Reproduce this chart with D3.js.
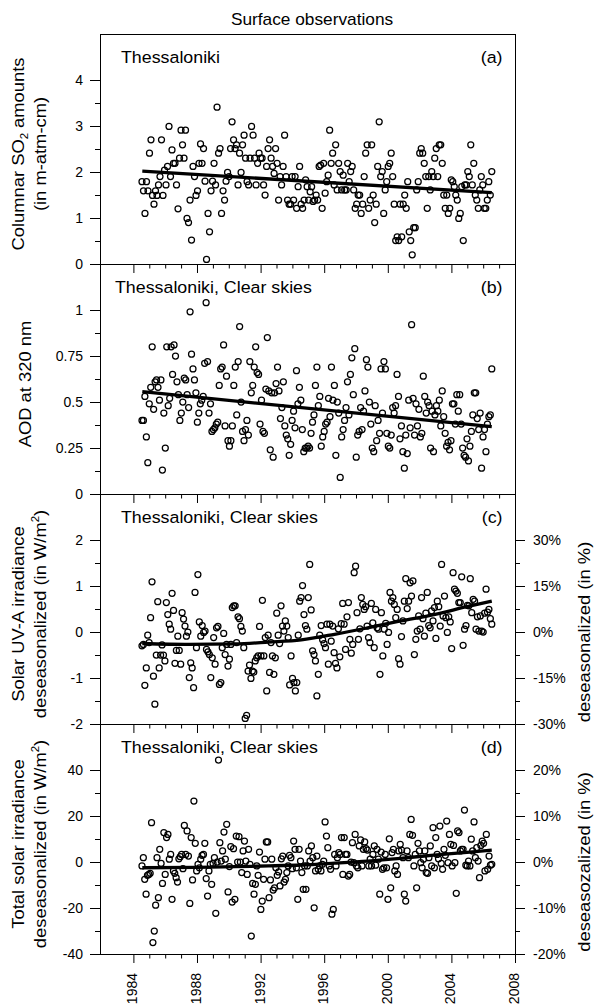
<!DOCTYPE html>
<html>
<head>
<meta charset="utf-8">
<script src="https://cdn.jsdelivr.net/npm/d3@7"></script>
<style>
  body { margin: 0; background: #fff; }
  svg { display: block; font-family: "Liberation Sans", Arial, Helvetica, sans-serif; }
</style>
</head>
<body>
<svg width="599" height="1008"></svg>
<script>
const width = 599, height = 1008;
const svg = d3.select("svg");

// observation period (monthly means, spread evenly over it)
const firstObs = 1984.54, lastObs = 2006.54;
const yearTicks = d3.range(1984, 2009);
const yearLabels = [1984, 1988, 1992, 1996, 2000, 2004, 2008];

// (a) columnar SO2
const so2Values = [1.79,1.59,1.10,1.79,1.59,2.41,2.70,1.49,1.30,1.59,1.49,1.72,1.90,2.70,1.49,2.04,1.72,2.12,2.99,1.90,2.48,2.19,2.19,1.72,1.20,2.30,2.91,2.59,2.30,2.91,0.99,0.90,1.39,0.52,2.12,1.90,1.49,1.59,2.19,2.61,2.19,2.51,1.80,0.10,1.10,0.70,1.59,1.80,2.19,1.72,3.41,2.41,2.51,1.10,1.59,1.39,1.80,1.99,1.90,2.51,3.09,2.70,2.51,2.59,1.72,2.41,1.99,2.59,2.80,2.30,1.79,1.72,2.30,2.99,2.80,2.30,1.72,2.19,2.41,2.30,2.30,1.72,1.50,2.12,2.51,2.70,2.30,2.12,1.97,2.51,2.19,1.39,1.90,1.72,2.12,2.80,1.90,1.39,1.30,1.30,1.90,1.39,1.90,1.21,1.68,2.12,1.30,1.21,1.39,
  1.83,1.68,1.39,1.57,1.68,1.36,1.39,1.50,1.39,2.12,2.15,1.21,2.19,1.54,1.79,1.93,2.91,2.19,2.41,1.72,2.59,1.61,2.19,2.01,1.61,1.93,1.61,1.61,2.19,1.79,2.01,2.12,1.61,1.21,1.30,1.50,1.50,1.10,1.30,1.90,2.41,2.59,1.21,1.39,2.59,1.50,0.90,1.30,2.12,3.09,1.90,2.01,1.10,1.61,1.79,2.12,2.19,2.41,1.90,1.30,0.51,0.59,0.51,1.30,0.59,1.30,1.50,1.21,1.79,0.70,0.51,0.20,0.79,0.79,1.61,1.79,2.41,2.51,2.41,2.19,1.90,1.21,1.90,1.61,2.01,1.90,2.30,2.51,1.90,2.59,2.59,2.19,1.50,1.21,1.50,1.10,1.21,1.83,1.79,1.68,1.50,1.39,0.99,1.10,1.68,0.51,1.72,1.72,2.01,1.90,2.59,1.72,2.19,1.50,1.39,1.21,1.61,1.90,1.72,1.21,1.21,1.39,1.79,1.50,2.01];
const so2TrendYears = [1984.56, 2006.54];
const so2TrendValues = [2.02, 1.55];
const so2Ticks = [0, 1, 2, 3, 4];
const so2Minor = [0.5, 1.5, 2.5, 3.5];

// (b) aerosol optical depth at 320 nm
const aodValues = [0.40,0.40,0.53,0.31,0.17,0.49,0.58,0.80,0.46,0.61,0.62,0.58,0.51,0.62,0.13,0.44,0.25,0.80,0.48,0.52,0.80,0.65,0.81,0.75,0.61,0.54,0.40,0.44,0.50,0.63,0.62,0.54,0.47,0.99,0.76,0.68,0.62,0.55,0.39,0.44,0.49,0.51,0.53,0.71,1.04,0.72,0.44,0.49,0.34,0.35,0.36,0.38,0.39,0.59,0.68,0.69,0.81,0.37,0.64,0.29,0.26,0.29,0.37,0.59,0.69,0.43,0.72,0.91,0.50,0.34,0.29,0.35,0.40,0.32,0.72,0.55,0.59,0.69,0.80,0.66,0.65,0.38,0.51,0.34,0.33,0.57,0.85,0.56,0.24,0.55,0.20,0.55,0.60,0.69,0.56,0.41,0.47,0.61,0.37,0.32,0.30,0.21,0.27,0.40,0.45,0.36,0.67,0.49,
  0.58,0.51,0.35,0.23,0.25,0.25,0.26,0.25,0.33,0.39,0.43,0.59,0.69,0.48,0.53,0.26,0.31,0.34,0.38,0.39,0.52,0.42,0.69,0.51,0.59,0.21,0.50,0.44,0.09,0.31,0.35,0.40,0.47,0.61,0.43,0.65,0.74,0.54,0.79,0.20,0.32,0.34,0.47,0.35,0.45,0.56,0.73,0.69,0.50,0.38,0.25,0.23,0.48,0.29,0.40,0.33,0.68,0.44,0.72,0.68,0.33,0.26,0.25,0.32,0.47,0.44,0.48,0.65,0.53,0.30,0.37,0.23,0.14,0.32,0.22,0.51,0.36,0.92,0.52,0.32,0.49,0.37,0.46,0.31,0.33,0.64,0.53,0.44,0.50,0.48,0.25,0.45,0.23,0.43,0.48,0.45,0.51,0.37,0.56,0.42,0.33,0.26,0.28,0.24,0.29,0.49,0.49,0.38,0.54,0.45,0.54,0.38,0.25,0.21,0.20,0.30,0.18,0.26,0.34,0.43,0.55,0.55,0.41,0.35,0.44,0.14,0.31,0.35,0.23,0.38,0.42,0.43,0.68];
const aodTrendYears = [1984.56, 2006.54];
const aodTrendValues = [0.556, 0.366];
const aodTicks = [0, 0.25, 0.5, 0.75, 1];
const aodMinor = [0.125, 0.375, 0.625, 0.875];

// (c) solar UV-A irradiance, deseasonalized
const uvaValues = [-0.30,-0.27,-1.16,-0.78,-0.07,-0.23,0.31,1.09,-0.96,-1.57,-0.50,0.66,-0.78,-0.50,-0.28,-0.50,-0.63,0.64,0.38,0.17,0.06,0.84,0.47,-0.68,-0.40,-0.09,-0.40,-0.70,0.42,0.28,0.13,-0.09,0.00,-0.99,-0.67,-0.78,-1.21,0.86,-0.34,1.25,0.22,-0.09,0.14,-0.01,0.02,-0.38,-0.43,-0.49,-0.99,-0.56,-0.12,-0.70,0.09,0.12,-1.14,-1.10,-0.34,-0.03,-0.49,-0.27,-0.74,-0.59,-0.27,0.53,0.57,0.57,-0.23,0.33,0.29,0.12,0.02,-0.34,-1.88,-1.81,-0.85,-0.72,-1.01,-0.85,-0.87,-0.63,-0.56,-0.52,0.12,-0.52,0.69,-0.52,-0.12,-1.28,-0.07,-0.88,-0.23,-0.52,-0.92,-0.56,0.41,-0.07,-0.25,0.57,0.13,0.02,0.24,0.13,-0.12,-1.15,-0.52,-1.01,-1.10,
  -1.28,-1.10,-0.07,0.67,0.75,1.01,0.38,0.14,0.06,0.75,1.47,0.48,-0.41,-0.49,-0.63,-1.39,-0.92,-0.07,0.14,-0.17,-0.25,-0.34,0.17,-0.70,0.17,-0.20,0.13,-0.45,-0.68,-0.78,0.07,-0.54,0.18,0.62,0.17,-0.38,0.33,0.64,-0.16,-0.46,-0.27,1.29,1.43,0.42,-0.16,0.07,0.75,0.60,0.49,0.55,0.13,-0.12,-0.23,0.62,0.20,-0.34,0.49,0.09,0.06,-0.92,0.42,-0.52,0.06,0.19,-0.27,-0.01,0.86,0.67,0.75,0.60,0.31,0.49,-0.58,-0.70,-0.10,0.24,0.67,1.16,0.51,0.67,1.07,0.78,1.11,-0.49,-0.16,0.02,0.35,0.06,0.75,0.29,-0.09,0.41,0.86,0.14,0.09,0.46,0.24,0.53,-0.14,0.67,0.55,0.13,1.47,0.35,0.78,0.31,-0.01,0.33,0.22,-0.36,1.29,0.93,0.89,0.84,0.64,0.64,1.20,-0.29,0.06,0.14,0.58,0.57,1.16,0.42,0.71,0.67,0.06,0.33,0.02,0.35,0.02,0.00,0.41,0.93,0.43,0.49,0.29,0.17];
const uvaTrendYears = [1984.56, 1987.5, 1990.4, 1992.5, 1994.56, 1996.65, 1998.73, 2000.81, 2002.9, 2004.98, 2006.54];
const uvaTrendValues = [-0.25, -0.27, -0.26, -0.22, -0.17, -0.05, 0.09, 0.24, 0.38, 0.55, 0.67];
const uvaTicks = [-2, -1, 0, 1, 2];
const uvaMinor = [-1.5, -0.5, 0.5, 1.5];
const uvaPctLabels = ["-30%", "-15%", "0%", "15%", "30%"];

// (d) total solar irradiance, deseasonalized
const tsiValues = [-1.7,1.9,-7.5,-14,-5.8,-5.4,-4.9,17.1,-35,-30,-18.8,1.9,-15.5,5.5,-0.6,-9.3,12.8,-5.4,10.6,12.0,1.2,3.3,-16.2,-3.9,-4.9,-6.8,-8.7,1.4,2.3,3.3,-2.9,15.9,3.3,13.5,2.6,-18.0,10.6,-7.8,26.5,8.1,-3.9,-1.0,-2.5,1.2,2.9,3.3,8.1,-7.2,-14.8,-3.9,-1.0,-9.7,-0.6,1.9,-22.3,0.0,44.3,8.4,0.4,4.8,13.0,1.2,16.4,-13.0,-2.0,6.7,-17.4,5.8,-16.2,11.3,0.0,11.0,0.0,-4.6,4.8,9.1,0.4,-5.4,5.5,-1.0,-32.2,-9.3,-14.0,-9.7,-1.7,-5.8,4.3,-20.6,-17.0,-7.5,1.2,8.7,8.7,-15.5,-7.8,1.2,-12.2,-11.2,-2.5,-5.8,-4.3,-10.4,1.4,2.6,-8.7,-7.5,-4.6,-1.7,2.9,1.9,-2.9,9.1,5.5,-2.5,-16.2,5.5,0.4,-4.6,
  -11.9,-1.7,-11.9,-1.7,4.8,0.4,7.0,1.9,-19.9,-3.9,2.6,-3.2,-1.7,-3.9,-1.0,0.4,17.4,11.3,6.2,-1.7,-3.2,-22.7,-20.6,3.3,-1.7,1.9,4.1,3.3,10.6,-5.4,10.6,3.3,3.3,-6.1,-5.4,0.0,8.4,-0.3,12.0,-1.7,-2.5,7.0,9.6,-1.7,5.5,8.7,5.8,5.2,-1.7,1.2,-1.7,3.3,7.0,-1.4,5.5,1.2,-14.0,4.3,-3.2,-2.5,3.3,-2.5,-16.2,10.1,-11.2,4.1,5.5,-3.9,-1.7,-5.4,4.8,7.7,5.2,1.9,-14.0,-17.0,4.8,1.9,12.0,18.5,11.6,-1.7,3.3,-11.2,8.1,4.8,-0.3,-2.5,1.2,4.8,-4.6,-4.9,1.9,7.0,-1.7,14.9,-2.5,10.6,3.3,1.4,15.6,-0.6,-3.2,5.5,2.9,17.8,-0.3,12.0,7.7,-1.7,7.2,-0.3,-13.6,13.5,12.8,4.8,5.5,5.5,22.6,-1.4,-1.7,0.4,-1.7,9.9,4.8,17.4,1.9,6.2,0.4,-6.8,7.2,9.1,8.1,-3.9,12.0,-3.2,2.6,-1.4,-1.0];
const tsiTrendYears = [1984.56, 1988, 1990.4, 1992.5, 1994.56, 1996.65, 1998.73, 2000.81, 2002.9, 2004.98, 2006.54];
const tsiTrendValues = [-2.5, -2.3, -2.0, -1.7, -1.3, -0.5, 0.4, 1.6, 3.0, 4.2, 5.2];
const tsiTicks = [-40, -20, 0, 20, 40];
const tsiMinor = [-30, -10, 10, 30];
const tsiPctLabels = ["-20%", "-10%", "0%", "10%", "20%"];

// layout
const left = 100, right = 515, panelH = 230, firstTop = 34;
const x = d3.scaleLinear().domain([1981.9, 2008]).range([left, right]);

const panels = [
  { values: so2Values, trendX: so2TrendYears, trendY: so2TrendValues, domain: [0, 5],
    ticks: so2Ticks, minor: so2Minor, station: "Thessaloniki", tag: "(a)", labelX: 121,
    title: [[["Columnar SO"], ["2", "sub"], [" amounts"]], [["(in m-atm-cm)"]]] },
  { values: aodValues, trendX: aodTrendYears, trendY: aodTrendValues, domain: [0, 1.25],
    ticks: aodTicks, minor: aodMinor, station: "Thessaloniki, Clear skies", tag: "(b)", labelX: 115,
    title: [[["AOD at 320 nm"]]] },
  { values: uvaValues, trendX: uvaTrendYears, trendY: uvaTrendValues, domain: [-2, 3],
    ticks: uvaTicks, minor: uvaMinor, station: "Thessaloniki, Clear skies", tag: "(c)", labelX: 121,
    title: [[["Solar UV-A irradiance"]], [["deseasonalized (in W/m"], ["2", "sup"], [")"]]],
    pct: uvaPctLabels, pctTitle: "deseasonalized (in %)" },
  { values: tsiValues, trendX: tsiTrendYears, trendY: tsiTrendValues, domain: [-40, 60],
    ticks: tsiTicks, minor: tsiMinor, station: "Thessaloniki, Clear skies", tag: "(d)", labelX: 121,
    title: [[["Total solar irradiance"]], [["deseasonalized (in W/m"], ["2", "sup"], [")"]]],
    pct: tsiPctLabels, pctTitle: "deseasozalized (in %)" }
];

// text helper; original lettering is a little wider than Liberation Sans
function addText(parent, tx, ty, rot, size, anchor, segments) {
  const t = parent.append("text")
    .attr("transform", `translate(${tx},${ty}) rotate(${rot}) scale(1.08,1)`)
    .attr("font-size", size)
    .attr("text-anchor", anchor)
    .attr("fill", "#000");
  let shift = 0;
  segments.forEach(([s, kind]) => {
    const sp = t.append("tspan").text(s);
    let target = 0;
    if (kind === "sub") { sp.attr("font-size", size * 0.62); target = 4; }
    if (kind === "sup") { sp.attr("font-size", size * 0.62); target = -7; }
    if (target !== shift) { sp.attr("dy", target - shift); shift = target; }
  });
  return t;
}

addText(svg, 312, 25, 0, 16, "middle", [["Surface observations"]]);

panels.forEach((p, i) => {
  const top = firstTop + i * panelH, bottom = top + panelH;
  const y = d3.scaleLinear().domain(p.domain).range([bottom, top]);
  const g = svg.append("g");
  const n = p.values.length;
  const dates = p.values.map((v, k) => firstObs + k * (lastObs - firstObs) / (n - 1));

  // points
  g.selectAll(".pt")
    .data(p.values)
    .enter()
    .append("circle")
    .attr("class", "pt")
    .attr("cx", (d, k) => x(dates[k]))
    .attr("cy", d => y(d))
    .attr("r", 3)
    .attr("fill", "none")
    .attr("stroke", "#000")
    .attr("stroke-width", 1.25);

  // trend
  const line = d3.line()
    .x((d, k) => x(p.trendX[k]))
    .y(d => y(d))
    .curve(d3.curveMonotoneX);
  g.append("path")
    .datum(p.trendY)
    .attr("d", line)
    .attr("fill", "none")
    .attr("stroke", "#000")
    .attr("stroke-width", 3.3);

  // frame
  g.append("rect")
    .attr("x", left + 0.5).attr("y", top + 0.5)
    .attr("width", right - left).attr("height", panelH)
    .attr("fill", "none").attr("stroke", "#000").attr("stroke-width", 1);

  // left axis
  g.append("g").attr("transform", `translate(${left},0)`)
    .call(d3.axisLeft(y).tickValues(p.ticks).tickSize(10).tickPadding(7).tickFormat(d => String(d)));
  g.append("g").attr("transform", `translate(${left},0)`)
    .call(d3.axisLeft(y).tickValues(p.minor).tickSize(5).tickFormat(""));

  // right axis in percent
  if (p.pct) {
    g.append("g").attr("transform", `translate(${right},0)`)
      .call(d3.axisRight(y).tickValues(p.ticks).tickSize(10).tickPadding(8).tickFormat((d, k) => p.pct[k]));
    g.append("g").attr("transform", `translate(${right},0)`)
      .call(d3.axisRight(y).tickValues(p.minor).tickSize(5).tickFormat(""));
    addText(g, 590, y(0), -90, 17, "middle", [[p.pctTitle]]);
  }

  // bottom axis
  const xAx = g.append("g").attr("transform", `translate(0,${bottom})`)
    .call(d3.axisBottom(x).tickValues(yearLabels).tickSize(9).tickFormat(d => String(d)));
  g.append("g").attr("transform", `translate(0,${bottom})`)
    .call(d3.axisBottom(x).tickValues(yearTicks.filter(d => d % 4 !== 0)).tickSize(4.5).tickFormat(""));
  if (i === panels.length - 1) {
    xAx.selectAll("text")
      .attr("transform", "rotate(-90)")
      .attr("text-anchor", "end")
      .attr("x", -19).attr("y", 0).attr("dy", "0.25em");
  } else {
    xAx.selectAll("text").remove();
  }

  // panel labels
  addText(g, p.labelX, top + 28.5, 0, 16.5, "start", [[p.station]]);
  addText(g, 502.5, top + 28.5, 0, 16.5, "end", [[p.tag]]);

  // left title
  const cy = (top + bottom) / 2 + 5;
  if (p.title.length === 1) {
    addText(g, 31, cy, -90, 17, "middle", p.title[0]);
  } else {
    addText(g, 24, cy, -90, 17, "middle", p.title[0]);
    addText(g, 45.5, cy, -90, 17, "middle", p.title[1]);
  }
});

svg.selectAll(".domain").remove();
svg.selectAll(".tick text").attr("font-size", 14).attr("font-family", "Liberation Sans, Arial, sans-serif").attr("fill", "#000");
svg.selectAll(".tick line").attr("stroke", "#000");
</script>
</body>
</html>
